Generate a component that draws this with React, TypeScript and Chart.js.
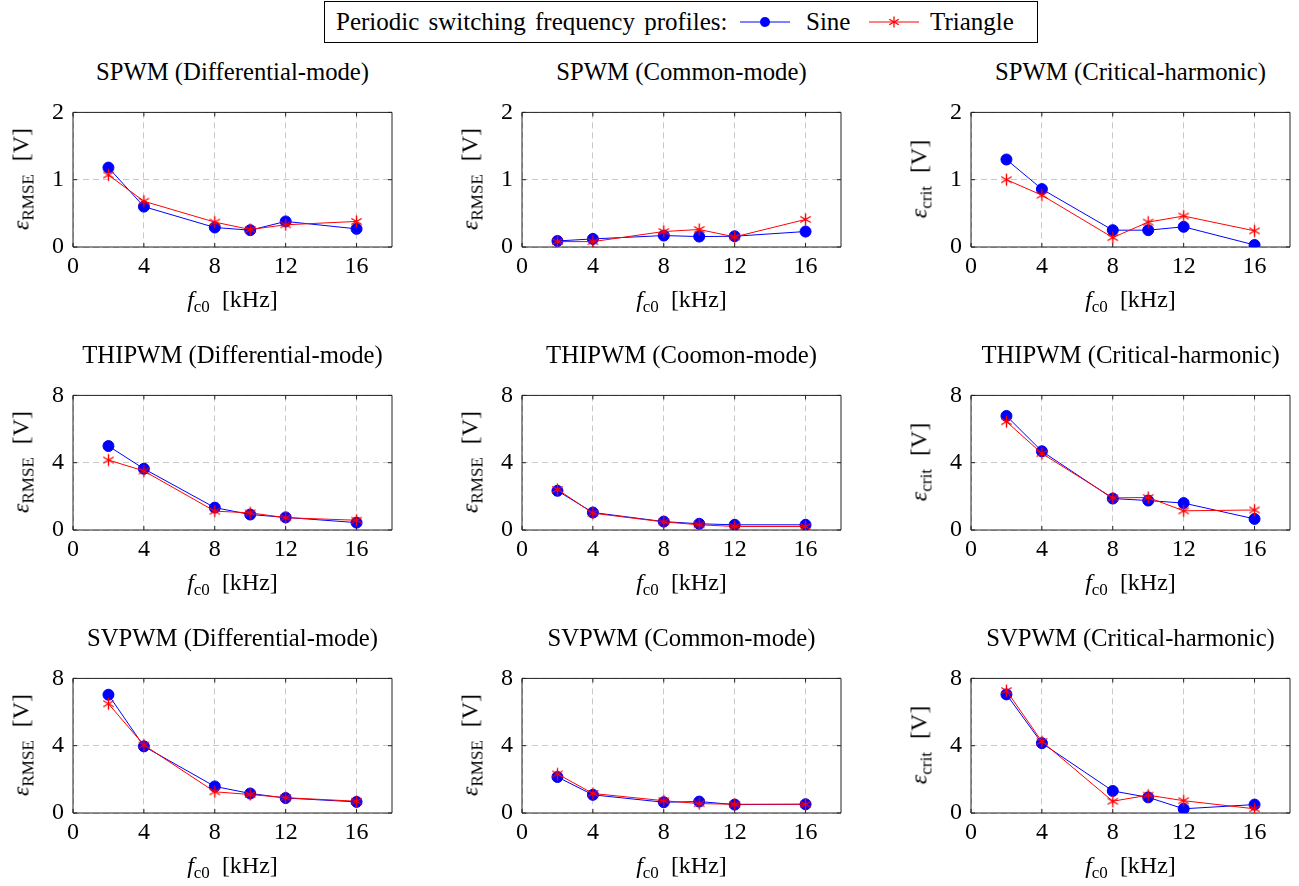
import React, { useEffect, useRef } from 'react';
import { Chart, registerables } from 'chart.js';

Chart.register(...registerables);

// ---------- data ----------
const FREQ_KHZ = [2, 4, 8, 10, 12, 16];
const X_TICKS = [0, 4, 8, 12, 16];
const X_MAX = 18;
const Y_TICKS_SPWM = [0, 1, 2];
const Y_TICKS_OTHER = [0, 4, 8];

const spwmDmSine = [1.18, 0.6, 0.29, 0.25, 0.38, 0.27];
const spwmDmTri = [1.07, 0.68, 0.37, 0.26, 0.33, 0.38];
const spwmCmSine = [0.09, 0.12, 0.17, 0.155, 0.16, 0.23];
const spwmCmTri = [0.08, 0.08, 0.23, 0.26, 0.15, 0.41];
const spwmCrSine = [1.3, 0.86, 0.25, 0.25, 0.3, 0.03];
const spwmCrTri = [1.0, 0.77, 0.14, 0.37, 0.46, 0.24];

const thiDmSine = [4.99, 3.64, 1.33, 0.92, 0.75, 0.44];
const thiDmTri = [4.16, 3.51, 1.12, 1.02, 0.73, 0.58];
const thiCmSine = [2.33, 1.04, 0.5, 0.37, 0.31, 0.31];
const thiCmTri = [2.41, 1.0, 0.48, 0.31, 0.21, 0.21];
const thiCrSine = [6.78, 4.68, 1.87, 1.75, 1.6, 0.66];
const thiCrTri = [6.44, 4.55, 1.91, 1.93, 1.14, 1.19];

const svDmSine = [7.03, 3.96, 1.58, 1.16, 0.89, 0.66];
const svDmTri = [6.49, 4.04, 1.26, 1.1, 0.91, 0.7];
const svCmSine = [2.14, 1.08, 0.64, 0.68, 0.5, 0.52];
const svCmTri = [2.32, 1.16, 0.73, 0.56, 0.52, 0.52];
const svCrSine = [7.05, 4.15, 1.31, 0.93, 0.25, 0.5];
const svCrTri = [7.27, 4.25, 0.7, 1.06, 0.73, 0.25];

const LEGEND_TITLE = 'Periodic switching frequency profiles:';
const SERIES_NAMES = ['Sine', 'Triangle'];

type Kind = 'RMSE' | 'crit';
type PanelSpec = {
  title: string;
  kind: Kind;
  yMax: number;
  yTicks: number[];
  sine: number[];
  tri: number[];
  row: number;
  col: number;
};

const PANELS: PanelSpec[] = [
  { title: 'SPWM (Differential-mode)', kind: 'RMSE', yMax: 2, yTicks: Y_TICKS_SPWM, sine: spwmDmSine, tri: spwmDmTri, row: 0, col: 0 },
  { title: 'SPWM (Common-mode)', kind: 'RMSE', yMax: 2, yTicks: Y_TICKS_SPWM, sine: spwmCmSine, tri: spwmCmTri, row: 0, col: 1 },
  { title: 'SPWM (Critical-harmonic)', kind: 'crit', yMax: 2, yTicks: Y_TICKS_SPWM, sine: spwmCrSine, tri: spwmCrTri, row: 0, col: 2 },
  { title: 'THIPWM (Differential-mode)', kind: 'RMSE', yMax: 8, yTicks: Y_TICKS_OTHER, sine: thiDmSine, tri: thiDmTri, row: 1, col: 0 },
  { title: 'THIPWM (Coomon-mode)', kind: 'RMSE', yMax: 8, yTicks: Y_TICKS_OTHER, sine: thiCmSine, tri: thiCmTri, row: 1, col: 1 },
  { title: 'THIPWM (Critical-harmonic)', kind: 'crit', yMax: 8, yTicks: Y_TICKS_OTHER, sine: thiCrSine, tri: thiCrTri, row: 1, col: 2 },
  { title: 'SVPWM (Differential-mode)', kind: 'RMSE', yMax: 8, yTicks: Y_TICKS_OTHER, sine: svDmSine, tri: svDmTri, row: 2, col: 0 },
  { title: 'SVPWM (Common-mode)', kind: 'RMSE', yMax: 8, yTicks: Y_TICKS_OTHER, sine: svCmSine, tri: svCmTri, row: 2, col: 1 },
  { title: 'SVPWM (Critical-harmonic)', kind: 'crit', yMax: 8, yTicks: Y_TICKS_OTHER, sine: svCrSine, tri: svCrTri, row: 2, col: 2 },
];

// ---------- layout ----------
const FONT = '"Liberation Serif", "Times New Roman", Times, serif';
const FS = 24;
const TITLE_FS = 24.7;
const COL_LEFT = [73, 522, 971];
const ROW_TOP = [109, 392, 675];
const PLOT_W = 319;
const PLOT_H = 138;
const PAD_L = 60;
const PAD_T = 20;
const PAD_R = 20;
const PAD_B = 50;
const BLUE = '#0000ff';
const RED = '#ff0000';

function makeAsterisk(r: number, color: string): HTMLCanvasElement {
  const size = Math.ceil(2 * r + 3);
  const c = document.createElement('canvas');
  c.width = size;
  c.height = size;
  const g = c.getContext('2d')!;
  g.strokeStyle = color;
  g.lineWidth = 1.4;
  const cx = size / 2;
  g.beginPath();
  for (let k = 0; k < 3; k++) {
    const a = Math.PI / 2 + (k * Math.PI) / 3;
    g.moveTo(cx + r * Math.cos(a), cx - r * Math.sin(a));
    g.lineTo(cx - r * Math.cos(a), cx + r * Math.sin(a));
  }
  g.stroke();
  return c;
}

const framePlugin = {
  id: 'pgfFrame',
  beforeDatasetsDraw(chart: any) {
    const { ctx, chartArea: a } = chart;
    const xs = chart.scales.x;
    const ys = chart.scales.y;
    const L = 4;
    ctx.save();
    ctx.strokeStyle = '#222';
    ctx.lineWidth = 1;
    ctx.beginPath();
    ctx.rect(a.left, a.top, a.right - a.left, a.bottom - a.top);
    xs.ticks.forEach((t: any) => {
      const px = xs.getPixelForValue(t.value);
      ctx.moveTo(px, a.bottom);
      ctx.lineTo(px, a.bottom - L);
      ctx.moveTo(px, a.top);
      ctx.lineTo(px, a.top + L);
    });
    ys.ticks.forEach((t: any) => {
      const py = ys.getPixelForValue(t.value);
      ctx.moveTo(a.left, py);
      ctx.lineTo(a.left + L, py);
      ctx.moveTo(a.right, py);
      ctx.lineTo(a.right - L, py);
    });
    ctx.stroke();
    ctx.restore();
  },
};

function Panel({ spec }: { spec: PanelSpec }) {
  const ref = useRef<HTMLCanvasElement | null>(null);
  const plotLeft = COL_LEFT[spec.col];
  const plotTop = ROW_TOP[spec.row];

  useEffect(() => {
    if (!ref.current) return;
    const star = makeAsterisk(6, RED);
    const tickFont = { family: FONT, size: FS };
    const chart = new Chart(ref.current, {
      type: 'line',
      data: {
        datasets: [
          {
            label: SERIES_NAMES[0],
            data: FREQ_KHZ.map((x, i) => ({ x, y: spec.sine[i] })),
            borderColor: BLUE,
            backgroundColor: BLUE,
            borderWidth: 1,
            pointStyle: 'circle',
            pointRadius: 5.5,
            pointBorderWidth: 1,
            pointBackgroundColor: BLUE,
            pointBorderColor: BLUE,
            tension: 0,
            order: 2,
          },
          {
            label: SERIES_NAMES[1],
            data: FREQ_KHZ.map((x, i) => ({ x, y: spec.tri[i] })),
            borderColor: RED,
            backgroundColor: RED,
            borderWidth: 1,
            pointStyle: star as any,
            pointRadius: 6,
            tension: 0,
            order: 1,
          },
        ],
      },
      options: {
        animation: false,
        responsive: false,
        maintainAspectRatio: false,
        devicePixelRatio: 1,
        layout: { padding: { left: 0, top: PAD_T, right: PAD_R, bottom: 0 } },
        plugins: { legend: { display: false }, tooltip: { enabled: false }, title: { display: false } },
        events: [],
        scales: {
          x: {
            type: 'linear',
            min: 0,
            max: X_MAX,
            afterBuildTicks: (s: any) => {
              s.ticks = X_TICKS.map((v) => ({ value: v }));
            },
            afterFit: (s: any) => {
              s.height = PAD_B;
            },
            grid: { color: '#c8c8c8', lineWidth: 1, drawTicks: false },
            border: { display: false, dash: [6, 4] },
            ticks: { font: tickFont, color: '#000', padding: 5, maxRotation: 0, autoSkip: false },
          },
          y: {
            type: 'linear',
            min: 0,
            max: spec.yMax,
            afterBuildTicks: (s: any) => {
              s.ticks = spec.yTicks.map((v) => ({ value: v }));
            },
            afterFit: (s: any) => {
              s.width = PAD_L;
            },
            grid: { color: '#c8c8c8', lineWidth: 1, drawTicks: false },
            border: { display: false, dash: [6, 4] },
            ticks: { font: tickFont, color: '#000', padding: 9, autoSkip: false },
          },
        },
      },
      plugins: [framePlugin],
    } as any);
    return () => chart.destroy();
  }, [spec]);

  const cW = PLOT_W + PAD_L + PAD_R;
  const cH = PLOT_H + PAD_T + PAD_B;
  const cx = plotLeft + PLOT_W / 2;
  const subStyle: React.CSSProperties = { fontSize: 17, position: 'relative', top: 5, fontStyle: 'normal' };

  return (
    <>
      <canvas
        ref={ref}
        width={cW}
        height={cH}
        style={{ position: 'absolute', left: plotLeft - PAD_L, top: plotTop - PAD_T, width: cW, height: cH }}
      />
      <div
        style={{
          position: 'absolute',
          left: cx - 200,
          width: 400,
          top: plotTop - 28 - 20.7,
          textAlign: 'center',
          fontFamily: FONT,
          fontSize: TITLE_FS,
          lineHeight: '24px',
          whiteSpace: 'nowrap',
        }}
      >
        {spec.title}
      </div>
      <div
        style={{
          position: 'absolute',
          left: cx - 200,
          width: 400,
          top: plotTop + PLOT_H + 60 - 20.1,
          textAlign: 'center',
          fontFamily: FONT,
          fontSize: FS,
          lineHeight: '24px',
          whiteSpace: 'nowrap',
        }}
      >
        <span style={{ fontStyle: 'italic' }}>f</span>
        <span style={subStyle}>c0</span>
        <span style={{ marginLeft: 12 }}>[kHz]</span>
      </div>
      <div
        style={{
          position: 'absolute',
          left: plotLeft - 51,
          top: plotTop + PLOT_H / 2 + 1,
          transform: 'translate(-50%, -50%) rotate(-90deg)',
          fontFamily: FONT,
          fontSize: FS,
          lineHeight: '24px',
          whiteSpace: 'nowrap',
        }}
      >
        <span style={{ fontStyle: 'italic' }}>{'\u03B5'}</span>
        <span style={subStyle}>{spec.kind}</span>
        <span style={{ marginLeft: 13 }}>[V]</span>
      </div>
    </>
  );
}

function Legend() {
  const base: React.CSSProperties = {
    position: 'absolute',
    fontFamily: FONT,
    fontSize: 25,
    lineHeight: '24px',
    whiteSpace: 'nowrap',
    top: 30 - 20.5,
  };
  return (
    <>
      <div
        style={{
          position: 'absolute',
          left: 324,
          top: 1,
          width: 714,
          height: 42,
          border: '1px solid #000',
          boxSizing: 'border-box',
        }}
      />
      <span style={{ ...base, left: 336, wordSpacing: 3 }}>{LEGEND_TITLE}</span>
      <svg style={{ position: 'absolute', left: 740, top: 14 }} width={50} height={16}>
        <line x1={0} y1={8} x2={50} y2={8} stroke={BLUE} strokeWidth={1} />
        <circle cx={25} cy={8} r={5} fill={BLUE} />
      </svg>
      <span style={{ ...base, left: 806 }}>{SERIES_NAMES[0]}</span>
      <svg style={{ position: 'absolute', left: 869, top: 14 }} width={50} height={16}>
        <line x1={0} y1={8} x2={50} y2={8} stroke={RED} strokeWidth={1} />
        {[0, 1, 2].map((k) => {
          const a = Math.PI / 2 + (k * Math.PI) / 3;
          const r = 5.5;
          return (
            <line
              key={k}
              x1={25 + r * Math.cos(a)}
              y1={8 - r * Math.sin(a)}
              x2={25 - r * Math.cos(a)}
              y2={8 + r * Math.sin(a)}
              stroke={RED}
              strokeWidth={1.3}
            />
          );
        })}
      </svg>
      <span style={{ ...base, left: 930 }}>{SERIES_NAMES[1]}</span>
    </>
  );
}

export default function App() {
  return (
    <div
      style={{
        position: 'absolute',
        left: 0,
        top: 0,
        width: 1299,
        height: 886,
        background: '#fff',
        overflow: 'hidden',
        color: '#000',
      }}
    >
      <Legend />
      {PANELS.map((p) => (
        <Panel key={p.title} spec={p} />
      ))}
    </div>
  );
}
